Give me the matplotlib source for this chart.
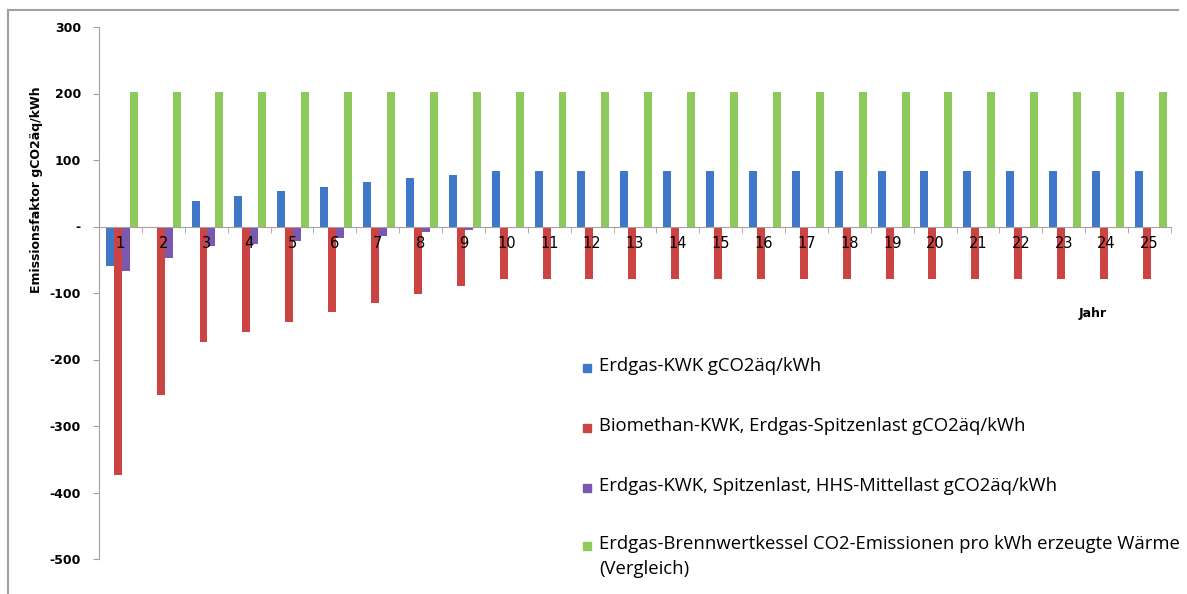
import numpy as np
import matplotlib
matplotlib.use('Agg')
import matplotlib.pyplot as plt
from matplotlib.lines import Line2D
from matplotlib.patches import Rectangle

years = list(range(1, 26))
erdgas_kwk = [-59, -2, 38, 46, 53, 60, 67, 73, 78] + [84] * 16
biomethan = [-373, -253, -174, -158, -143, -128, -115, -102, -90] + [-79] * 16
hhs_mittel = [-67, -48, -30, -27, -22, -18, -14, -9, -6] + [0] * 16
brennwert = [203] * 25

labels = ['Erdgas-KWK gCO2äq/kWh',
          'Biomethan-KWK, Erdgas-Spitzenlast gCO2äq/kWh',
          'Erdgas-KWK, Spitzenlast, HHS-Mittellast gCO2äq/kWh',
          'Erdgas-Brennwertkessel CO2-Emissionen pro kWh erzeugte Wärme\n(Vergleich)']
colors = ['#3f78c8', '#cc4343', '#7b58b0', '#8ec95c']
yticks = [300, 200, 100, 0, -100, -200, -300, -400, -500]
ytick_labels = ['300', '200', '100', '-', '-100', '-200', '-300', '-400', '-500']

W, H = 1187, 594
fig = plt.figure(figsize=(W / 100, H / 100), dpi=100)
ax = fig.add_axes([99 / W, 1 - 559 / H, (1171 - 99) / W, (559 - 27) / H])

x = np.arange(1, 26)
w = 0.186
series = [erdgas_kwk, biomethan, hhs_mittel, brennwert]
for i, (vals, c) in enumerate(zip(series, colors)):
    ax.bar(x + (i - 1.5) * w + 0.03, vals, width=w, color=c, label=labels[i])

ax.set_xlim(0.5, 25.5)
ax.set_ylim(-500, 300)

for s in ['top', 'right']:
    ax.spines[s].set_visible(False)
ax.spines['bottom'].set_position(('data', 0))
ax.spines['bottom'].set_color('#a8a0a0')
ax.spines['left'].set_color('#a8a0a0')

ax.set_xticks(x)
ax.set_xticklabels([str(v) for v in years], fontsize=10.5)
ax.set_xticks(np.arange(0.5, 26, 1), minor=True)
ax.tick_params(axis='x', which='major', length=0, pad=7)
ax.tick_params(axis='x', which='minor', length=4, color='#a8a0a0', direction='out')

ax.set_yticks(yticks)
ax.set_yticklabels(ytick_labels, fontsize=9, fontweight='bold')
ax.tick_params(axis='y', length=4, color='#a8a0a0', pad=9)

fig.text(37 / W, 1 - 190 / H, 'Emissionsfaktor gCO2äq/kWh', rotation=90,
         ha='center', va='center', fontsize=9, fontweight='bold')
fig.text(1093 / W, 1 - 313 / H, 'Jahr', ha='center', va='center',
         fontsize=9, fontweight='bold')

# legend drawn by hand so the swatch sits on the first line of a wrapped label
entry_y = [367, 427, 487, 545]
for lab, c, yy in zip(labels, colors, entry_y):
    fig.add_artist(Rectangle((583 / W, 1 - (yy + 5) / H), 8 / W, 8 / H,
                             transform=fig.transFigure, color=c))
    fig.text(599 / W, 1 - (yy - 10) / H, lab, ha='left', va='top',
             family='Open Sans', fontsize=13.3, linespacing=1.5)

# outer frame
fig.add_artist(Line2D([8 / W, 8 / W], [0, 1 - 10 / H], color='#a0a0a0', lw=1.5))
fig.add_artist(Line2D([8 / W, 1178 / W], [1 - 10 / H, 1 - 10 / H], color='#a0a0a0', lw=1.5))

fig.savefig('out.png', dpi=100)
